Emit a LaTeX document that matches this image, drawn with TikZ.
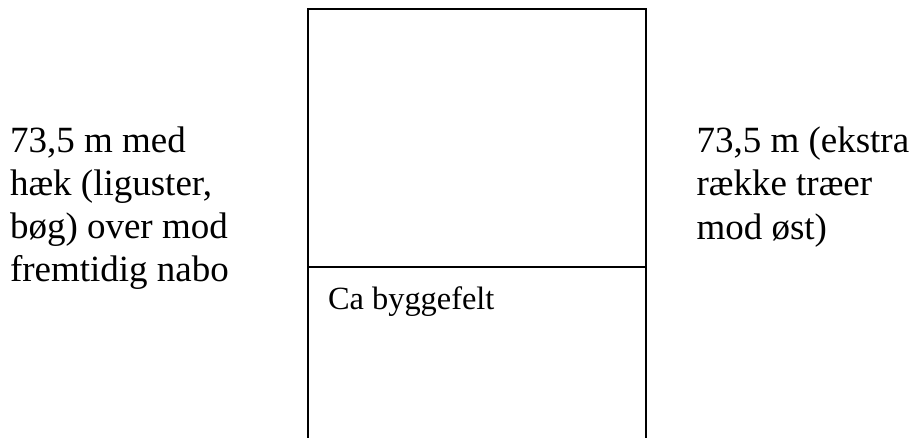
\documentclass[tikz,border=0pt]{standalone}
\usepackage{fontspec}
\setmainfont{Liberation Serif}
\begin{document}
\begin{tikzpicture}[x=1pt,y=-1pt,
  lbl/.style={anchor=base west,inner sep=0pt,outer sep=0pt},
  side/.style={lbl,font=\fontsize{37}{43}\selectfont},
  inner/.style={lbl,font=\fontsize{32.4}{37}\selectfont},
  edge/.style={line width=2pt,line cap=rect}]
\useasboundingbox (0,0) rectangle (912,438);
\fill[white] (0,0) rectangle (912,438);
% plot
\coordinate (tl) at (308,9);
\coordinate (tr) at (646,9);
\coordinate (bl) at (308,445);
\coordinate (br) at (646,445);
\coordinate (ml) at (308,267);
\coordinate (mr) at (646,267);
\draw[edge] (bl) -- (tl) -- (tr) -- (br);
\draw[line width=1.6pt] (ml) -- (mr);
% left text
\node[side] (l1) at (10,152.5) {73,5 m med};
\node[side] (l2) at (10,195.5) {hæk (liguster,};
\node[side] (l3) at (10,238.5) {bøg) over mod};
\node[side] (l4) at (10,281.5) {fremtidig nabo};
% right text
\node[side] (r1) at (696.5,152.5) {73,5 m (ekstra};
\node[side] (r2) at (696.5,196) {række træer};
\node[side] (r3) at (696.5,239.5) {mod øst)};
% inner label
\node[inner] (bf) at (328,309) {Ca byggefelt};
\end{tikzpicture}
\end{document}
